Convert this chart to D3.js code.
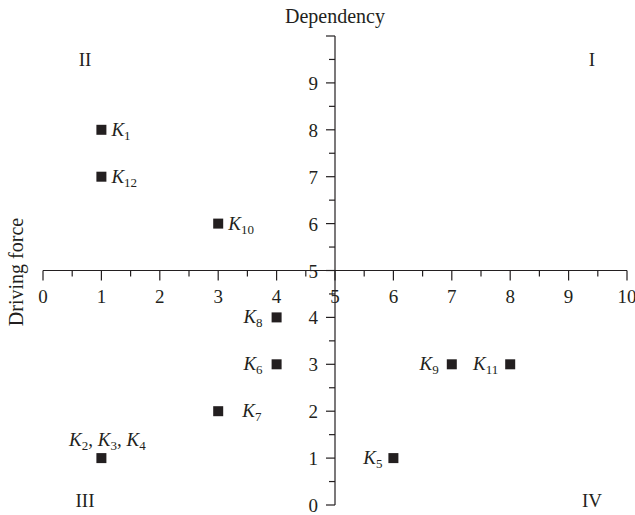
<!DOCTYPE html>
<html>
<head>
<meta charset="utf-8">
<script src="https://cdn.jsdelivr.net/npm/d3@7"></script>
<style>
  body { margin: 0; background: #fff; }
  svg { font-family: "Liberation Serif", "DejaVu Serif", serif; }
</style>
</head>
<body>
<svg id="chart" width="635" height="515"></svg>
<script>
// Factors and their position in the quadrant map
const factors = ["1", "12", "10", "8", "6", "7", "2,3,4", "5", "9", "11"];
const xValues = [1, 1, 3, 4, 4, 3, 1, 6, 7, 8];
const yValues = [8, 7, 6, 4, 3, 2, 1, 1, 3, 3];
const xTicks = [0, 1, 2, 3, 4, 5, 6, 7, 8, 9, 10];
const yTicks = [0, 1, 2, 3, 4, 5, 6, 7, 8, 9];
const quadrants = ["I", "II", "III", "IV"];

const INK = "#231f20";

const svg = d3.select("#chart");

const x = d3.scaleLinear().domain([0, 10]).range([43, 627]);
const y = d3.scaleLinear().domain([0, 10]).range([505, 36]);

// Horizontal axis crossing at y = 5
const xAxis = svg.append("g").attr("transform", `translate(0, ${y(5)})`);
xAxis.append("line")
  .attr("x1", x(0)).attr("x2", x(10))
  .attr("stroke", INK).attr("stroke-width", 1.2);
xAxis.selectAll(".minor")
  .data(d3.range(0.5, 10, 1))
  .join("line")
  .attr("class", "minor")
  .attr("x1", d => x(d)).attr("x2", d => x(d))
  .attr("y1", 0).attr("y2", 6)
  .attr("stroke", INK).attr("stroke-width", 1.2);
xAxis.selectAll(".major")
  .data(xTicks)
  .join("line")
  .attr("class", "major")
  .attr("x1", d => x(d)).attr("x2", d => x(d))
  .attr("y1", 0).attr("y2", 10)
  .attr("stroke", INK).attr("stroke-width", 1.2);
xAxis.selectAll("text")
  .data(xTicks)
  .join("text")
  .attr("x", d => x(d))
  .attr("y", 32)
  .attr("text-anchor", "middle")
  .attr("font-size", 19)
  .attr("fill", INK)
  .text(d => d);

// Vertical axis crossing at x = 5
const yAxis = svg.append("g").attr("transform", `translate(${x(5)}, 0)`);
yAxis.append("line")
  .attr("y1", y(0)).attr("y2", y(10))
  .attr("stroke", INK).attr("stroke-width", 1.2);
yAxis.selectAll(".minor")
  .data(d3.range(0.5, 10, 1))
  .join("line")
  .attr("class", "minor")
  .attr("y1", d => y(d)).attr("y2", d => y(d))
  .attr("x1", 0).attr("x2", -6)
  .attr("stroke", INK).attr("stroke-width", 1.2);
yAxis.selectAll(".major")
  .data(d3.range(0, 11))
  .join("line")
  .attr("class", "major")
  .attr("y1", d => y(d)).attr("y2", d => y(d))
  .attr("x1", 0).attr("x2", -9)
  .attr("stroke", INK).attr("stroke-width", 1.2);
yAxis.selectAll("text")
  .data(yTicks)
  .join("text")
  .attr("x", -17)
  .attr("y", d => y(d) + 7)
  .attr("text-anchor", "end")
  .attr("font-size", 19)
  .attr("fill", INK)
  .text(d => d);

// Axis titles
svg.append("text")
  .attr("x", x(5)).attr("y", 23)
  .attr("text-anchor", "middle")
  .attr("font-size", 20)
  .attr("fill", INK)
  .text("Dependency");
svg.append("text")
  .attr("transform", `translate(23, 272) rotate(-90)`)
  .attr("text-anchor", "middle")
  .attr("font-size", 20)
  .attr("fill", INK)
  .text("Driving force");

// Quadrant numerals
const quadrantPos = { I: [9.4, 9.5], II: [0.72, 9.5], III: [0.72, 0.1], IV: [9.4, 0.1] };
svg.selectAll(".quad")
  .data(quadrants)
  .join("text")
  .attr("class", "quad")
  .attr("x", d => x(quadrantPos[d][0]))
  .attr("y", d => y(quadrantPos[d][1]) + 7)
  .attr("text-anchor", "middle")
  .attr("font-size", 19)
  .attr("fill", INK)
  .text(d => d);

// Square markers
const points = factors.map((f, i) => ({ f, x: xValues[i], y: yValues[i] }));
svg.selectAll(".pt")
  .data(points)
  .join("rect")
  .attr("class", "pt")
  .attr("x", d => x(d.x) - 5)
  .attr("y", d => y(d.y) - 5)
  .attr("width", 10).attr("height", 10)
  .attr("fill", INK);

// Label placement: [dx, dy, anchor]
const labelPlace = {
  "1": [10, 6, "start"], "12": [10, 6, "start"], "10": [10, 6, "start"],
  "8": [-14, 6, "end"], "6": [-14, 6, "end"], "7": [24, 6, "start"],
  "2,3,4": [6, -12, "middle"], "5": [-11, 6, "end"], "9": [-13, 6, "end"],
  "11": [-12, 6, "end"]
};

const labels = svg.selectAll(".lbl")
  .data(points)
  .join("text")
  .attr("class", "lbl")
  .attr("x", d => x(d.x) + labelPlace[d.f][0])
  .attr("y", d => y(d.y) + labelPlace[d.f][1])
  .attr("text-anchor", d => labelPlace[d.f][2])
  .attr("font-size", 19)
  .attr("fill", INK);

labels.each(function (d) {
  const t = d3.select(this);
  const subs = d.f.split(",");
  subs.forEach((s, i) => {
    t.append("tspan").attr("font-style", "italic").text("K");
    t.append("tspan").attr("font-size", 13).attr("dy", 4).text(s);
    t.append("tspan").attr("dy", -4).text(i < subs.length - 1 ? ", " : "");
  });
});
</script>
</body>
</html>
